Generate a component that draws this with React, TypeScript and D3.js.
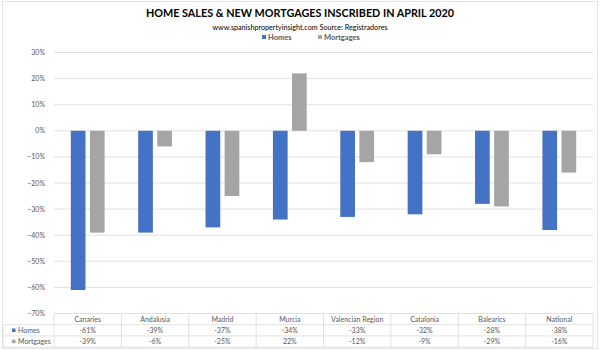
import React from "react";
import * as d3 from "d3";

const categories = ["Canaries", "Andalusia", "Madrid", "Murcia", "Valencian Region", "Catalonia", "Balearics", "National"];
const homes = [-61, -39, -37, -34, -33, -32, -28, -38];
const mortgages = [-39, -6, -25, 22, -12, -9, -29, -16];
const seriesNames = ["Homes", "Mortgages"];
const yTicks = [30, 20, 10, 0, -10, -20, -30, -40, -50, -60, -70];

const COLORS = ["#4472C4", "#A5A5A5"];
const FONT = "Lato, 'Open Sans', sans-serif";

export default function App() {
  const W = 600, H = 350;
  const left = 54, right = 593, top = 52.5, bottom = 313.5;
  const x = d3.scaleBand<string>().domain(categories).range([left, right]).paddingInner(0).paddingOuter(0);
  const y = d3.scaleLinear().domain([-70, 30]).range([bottom, top]);
  const barW = 14.7, gap = 4.4;
  const series = [homes, mortgages];
  const rowH = 11.2;
  const tableTop = bottom;
  const textCol = "#595959";
  const grid = "#D9D9D9";

  return (
    <svg width={W} height={H} style={{ position: "absolute", left: 0, top: 0, background: "#fff" }} fontFamily={FONT}>
      <rect x={2.5} y={1.5} width={595} height={347} fill="#fff" stroke="#E4E4E4" />
      <text x={300} y={17} textAnchor="middle" fontSize={11.8} fontWeight="bold" fill="#000" textLength={308} lengthAdjust="spacingAndGlyphs">HOME SALES &amp; NEW MORTGAGES INSCRIBED IN APRIL 2020</text>
      <text x={300} y={29.5} textAnchor="middle" fontSize={7.2} fill="#000">www.spanishpropertyinsight.com Source: Registradores</text>
      {/* legend */}
      <g fontSize={7.5} fontWeight="bold" fill={textCol}>
        <rect x={262} y={35} width={4} height={4} fill={COLORS[0]} />
        <text x={268} y={39.5}>{seriesNames[0]}</text>
        <rect x={318} y={35} width={4} height={4} fill={COLORS[1]} />
        <text x={324} y={39.5}>{seriesNames[1]}</text>
      </g>
      {/* grid + y labels */}
      {yTicks.map((t) => (
        <g key={t}>
          {t !== -70 && <line x1={left} x2={right} y1={y(t)} y2={y(t)} stroke={grid} strokeWidth={0.8} />}
          <text x={45} y={y(t) + 2.5} textAnchor="end" fontSize={7} fill={textCol}>{d3.format("d")(t) + "%"}</text>
        </g>
      ))}
      {/* bars */}
      {categories.map((c, i) => {
        const cx = (x(c) as number) + x.bandwidth() / 2;
        return series.map((s, k) => {
          const v = s[i];
          const bx = k === 0 ? cx - gap / 2 - barW : cx + gap / 2;
          return (
            <rect key={c + k} x={bx} width={barW} y={Math.min(y(v), y(0))} height={Math.abs(y(v) - y(0))} fill={COLORS[k]} />
          );
        });
      })}
      {/* data table */}
      <g fontSize={7} fill={textCol}>
        <line x1={left} x2={right} y1={tableTop} y2={tableTop} stroke={grid} strokeWidth={0.8} />
        <line x1={3} x2={right} y1={tableTop + rowH} y2={tableTop + rowH} stroke={grid} strokeWidth={0.8} />
        <line x1={3} x2={right} y1={tableTop + 2 * rowH} y2={tableTop + 2 * rowH} stroke={grid} strokeWidth={0.8} />
        <line x1={3} x2={right} y1={tableTop + 3 * rowH} y2={tableTop + 3 * rowH} stroke={grid} strokeWidth={0.8} />
        <line x1={3} x2={3} y1={tableTop + rowH} y2={tableTop + 3 * rowH} stroke={grid} strokeWidth={0.8} />
        {categories.map((c) => (
          <line key={"v" + c} x1={x(c) as number} x2={x(c) as number} y1={tableTop} y2={tableTop + 3 * rowH} stroke={grid} strokeWidth={0.8} />
        ))}
        <line x1={right} x2={right} y1={tableTop} y2={tableTop + 3 * rowH} stroke={grid} strokeWidth={0.8} />
        {categories.map((c, i) => {
          const cx = (x(c) as number) + x.bandwidth() / 2;
          return (
            <g key={"t" + c}>
              <text x={cx} y={tableTop + rowH - 3} textAnchor="middle">{c}</text>
              <text x={cx} y={tableTop + 2 * rowH - 3} textAnchor="middle">{homes[i] + "%"}</text>
              <text x={cx} y={tableTop + 3 * rowH - 3} textAnchor="middle">{mortgages[i] + "%"}</text>
            </g>
          );
        })}
        {seriesNames.map((n, k) => (
          <g key={n}>
            <rect x={12} y={tableTop + (k + 1) * rowH + 3.8} width={3.5} height={3.5} fill={COLORS[k]} />
            <text x={18} y={tableTop + (k + 2) * rowH - 3}>{n}</text>
          </g>
        ))}
      </g>
    </svg>
  );
}
